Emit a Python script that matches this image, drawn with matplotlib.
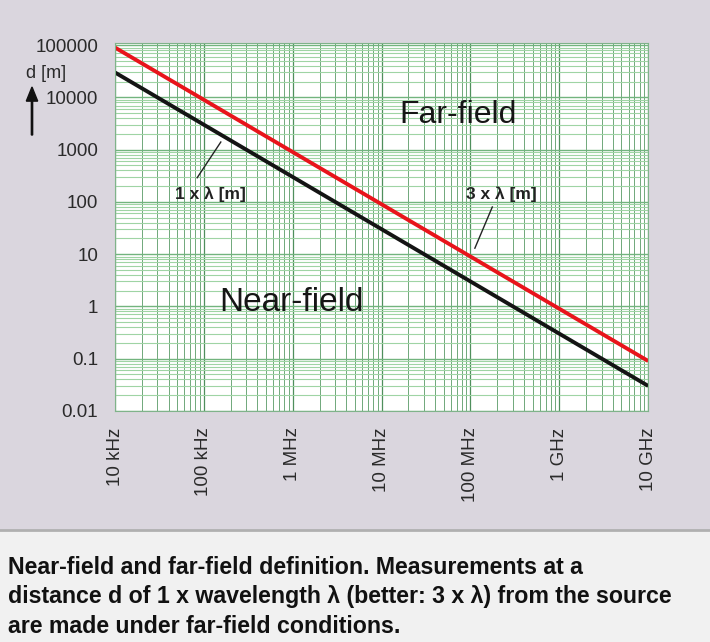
import numpy as np
import matplotlib.pyplot as plt
from matplotlib.ticker import LogLocator, FixedLocator, NullFormatter

plt.rcParams['font.family'] = ['Liberation Sans', 'DejaVu Sans']

# frequency points (Hz) and wavelengths
freq_hz = [1e4, 1e5, 1e6, 1e7, 1e8, 1e9, 1e10]
wavelength_1x = [30000, 3000, 300, 30, 3, 0.3, 0.03]
wavelength_3x = [90000, 9000, 900, 90, 9, 0.9, 0.09]

x_ticks = [1e4, 1e5, 1e6, 1e7, 1e8, 1e9, 1e10]
x_labels = ['10 kHz', '100 kHz', '1 MHz', '10 MHz', '100 MHz', '1 GHz', '10 GHz']
y_ticks = [0.01, 0.1, 1, 10, 100, 1000, 10000, 100000]
y_labels = ['0.01', '0.1', '1', '10', '100', '1000', '10000', '100000']

caption = ("Near-field and far-field definition. Measurements at a\n"
           "distance d of 1 x wavelength \u03bb (better: 3 x \u03bb) from the source\n"
           "are made under far-field conditions.")

fig = plt.figure(figsize=(7.1, 6.42), dpi=100)
fig.patch.set_facecolor('#dad6de')
# lighter caption strip at the bottom
fig.patches.append(plt.Rectangle((0, 0), 1, 112 / 642, transform=fig.transFigure,
                                 facecolor='#f1f1f1', edgecolor='none', zorder=0))
fig.lines.append(plt.Line2D([0, 1], [112 / 642, 112 / 642], transform=fig.transFigure,
                            color='#b0b0b0', lw=2))

ax = fig.add_axes([0.162, 0.360, 0.751, 0.573])
ax.set_facecolor('white')
ax.set_xscale('log')
ax.set_yscale('log')
ax.set_xlim(1e4, 1e10)
ax.set_ylim(0.01, 1.1e5)

ax.xaxis.set_minor_locator(LogLocator(base=10, subs=np.arange(2, 10)))
ax.yaxis.set_minor_locator(LogLocator(base=10, subs=np.arange(2, 10)))
ax.xaxis.set_minor_formatter(NullFormatter())
ax.yaxis.set_minor_formatter(NullFormatter())
ax.xaxis.set_major_locator(FixedLocator(x_ticks))
ax.yaxis.set_major_locator(FixedLocator(y_ticks))

ax.grid(True, which='major', axis='x', color='#4f8f5c', lw=0.9)
ax.grid(True, which='minor', axis='x', color='#6fa87a', lw=0.7)
ax.grid(True, which='major', axis='y', color='#72b47e', lw=1.0)
ax.grid(True, which='minor', axis='y', color='#9fd4a4', lw=0.8)
ax.set_axisbelow(True)

for s in ax.spines.values():
    s.set_color('#7fb38a')
    s.set_linewidth(0.8)
ax.tick_params(which='both', length=0)
ax.set_xticklabels(x_labels, rotation=90, fontsize=13.5, color='#2a2a2a')
ax.set_yticklabels(y_labels, fontsize=13.5, color='#2a2a2a')
ax.tick_params(axis='x', pad=12)
ax.tick_params(axis='y', pad=12)

ax.plot(freq_hz, wavelength_3x, color='#e8141b', lw=2.8, solid_capstyle='butt')
ax.plot(freq_hz, wavelength_1x, color='#141414', lw=2.8, solid_capstyle='butt')

ax.text(1.6e7, 4600, 'Far-field', fontsize=23, color='#151515', va='center')
ax.text(1.5e5, 1.17, 'Near-field', fontsize=24, color='#151515', va='center')

ax.text(1.18e5, 140, '1 x \u03bb [m]', fontsize=12.5, fontweight='bold',
        color='#222222', ha='center', va='center')
ax.plot([8.4e4, 1.55e5], [290, 1400], color='#222222', lw=1)
ax.text(2.2e8, 140, '3 x \u03bb [m]', fontsize=12.5, fontweight='bold',
        color='#222222', ha='center', va='center')
ax.plot([1.12e8, 1.76e8], [13, 80], color='#222222', lw=1)

# y axis quantity with upward arrow
fig.text(46 / 710, 1 - 73 / 642, 'd [m]', fontsize=13, color='#2a2a2a',
         ha='center', va='center')
fig.patches.append(plt.matplotlib.patches.FancyArrow(
    32 / 710, 1 - 135 / 642, 0, 48 / 642, width=0.0018, head_width=0.016,
    head_length=0.022, transform=fig.transFigure, color='#111111',
    length_includes_head=True))

fig.text(8 / 710, 1 - 597 / 642, caption, fontsize=16.7, fontweight='bold',
         color='#111111', ha='left', va='center', linespacing=1.35)

fig.savefig('out.png', dpi=100, facecolor=fig.get_facecolor())
